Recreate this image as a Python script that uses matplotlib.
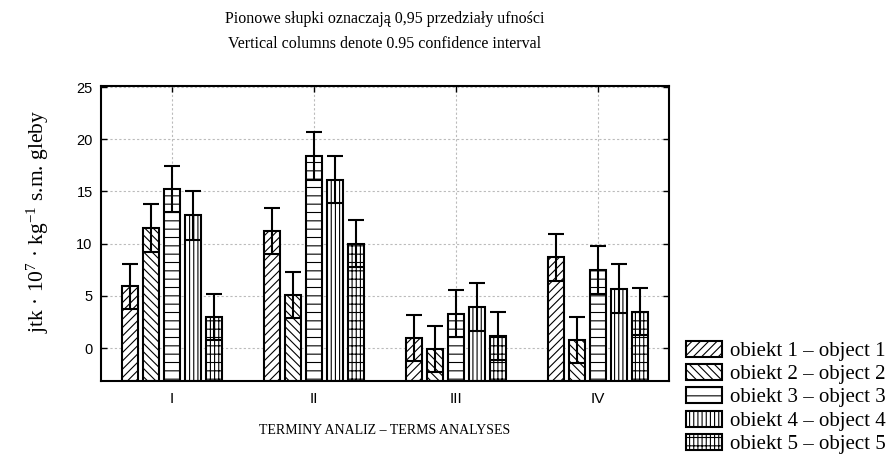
import numpy as np
import matplotlib.pyplot as plt
from matplotlib.patches import Rectangle

plt.rcParams['hatch.linewidth'] = 0.8
plt.rcParams['mathtext.fontset'] = 'custom'
plt.rcParams['mathtext.rm'] = 'Liberation Serif'
plt.rcParams['mathtext.it'] = 'Liberation Serif:italic'

SERIF = 'Liberation Serif'
SANS = 'Liberation Sans'

terms = ['I', 'II', 'III', 'IV']
labels = ['obiekt 1 – object 1', 'obiekt 2 – object 2', 'obiekt 3 – object 3',
          'obiekt 4 – object 4', 'obiekt 5 – object 5']

# srednie dla obiektow w kolejnych terminach
obj1 = [5.9, 11.2, 1.0, 8.7]
obj2 = [11.5, 5.1, -0.1, 0.8]
obj3 = [15.2, 18.4, 3.3, 7.5]
obj4 = [12.7, 16.1, 3.9, 5.7]
obj5 = [3.0, 10.0, 1.2, 3.5]

# polowa przedzialu ufnosci 0,95
ci1 = [2.2, 2.2, 2.2, 2.25]
ci2 = [2.3, 2.2, 2.2, 2.2]
ci3 = [2.2, 2.3, 2.25, 2.3]
ci4 = [2.3, 2.25, 2.3, 2.35]
ci5 = [2.2, 2.25, 2.3, 2.25]

means = [obj1, obj2, obj3, obj4, obj5]
cis = [ci1, ci2, ci3, ci4, ci5]
hatches = ['////', '\\\\\\\\', '--', '||||', '||||--']

ymin, ymax = -3.15, 25.1

fig = plt.figure(figsize=(8.93, 4.57), dpi=100)
ax = fig.add_axes([0.1131, 0.1663, 0.6361, 0.6455])

x = np.arange(len(terms))
step = 0.148
width = 0.112
for i in range(5):
    pos = x + (i - 2) * step
    vals = np.array(means[i])
    ax.bar(pos, vals - ymin, bottom=ymin, width=width, color='white',
           edgecolor='black', linewidth=1.5, hatch=hatches[i], zorder=2)
    ax.errorbar(pos, vals, yerr=cis[i], fmt='none', ecolor='black',
                elinewidth=1.5, capsize=6, capthick=1.5, zorder=3)

ax.set_xlim(-0.5, 3.5)
ax.set_ylim(ymin, ymax)
ax.set_xticks(x)
ax.set_xticklabels(terms, family=SANS, fontsize=11)
ax.set_yticks([0, 5, 10, 15, 20, 25])
ax.set_yticklabels(['0', '5', '10', '15', '20', '25'], family=SANS, fontsize=10.5)
ax.tick_params(direction='in', length=4, width=1, top=True, right=True)
ax.tick_params(axis='x', pad=8)
ax.tick_params(axis='y', pad=6)
ax.grid(True, linestyle=(0, (2, 2)), color='#bbbbbb', linewidth=0.8, zorder=0)
ax.set_axisbelow(True)
for s in ax.spines.values():
    s.set_linewidth(1.5)

fig.text(0.431, 0.958, 'Pionowe słupki oznaczają 0,95 przedziały ufności',
         ha='center', va='center', family=SERIF, fontsize=11.5)
fig.text(0.431, 0.903, 'Vertical columns denote 0.95 confidence interval',
         ha='center', va='center', family=SERIF, fontsize=11.5)
fig.text(0.431, 0.057, 'TERMINY ANALIZ – TERMS ANALYSES',
         ha='center', va='center', family=SERIF, fontsize=10)
fig.text(0.043, 0.515, 'jtk · 10$^{7}$ · kg$^{-1}$ s.m. gleby', rotation=90,
         ha='center', va='center', family=SERIF, fontsize=15.5)

# legenda rysowana recznie w ukladzie figury
W, H = 893.0, 457.0
for i, (h, lab) in enumerate(zip(hatches, labels)):
    yc = 349 + 23.2 * i
    fig.patches.append(Rectangle((686 / W, 1 - (yc + 8) / H), 36 / W, 16 / H,
                                 transform=fig.transFigure, facecolor='white',
                                 edgecolor='black', linewidth=1.5, hatch=h))
    fig.text(730 / W, 1 - yc / H, lab, ha='left', va='center_baseline',
             family=SERIF, fontsize=15)

fig.savefig('out.png', dpi=100)
